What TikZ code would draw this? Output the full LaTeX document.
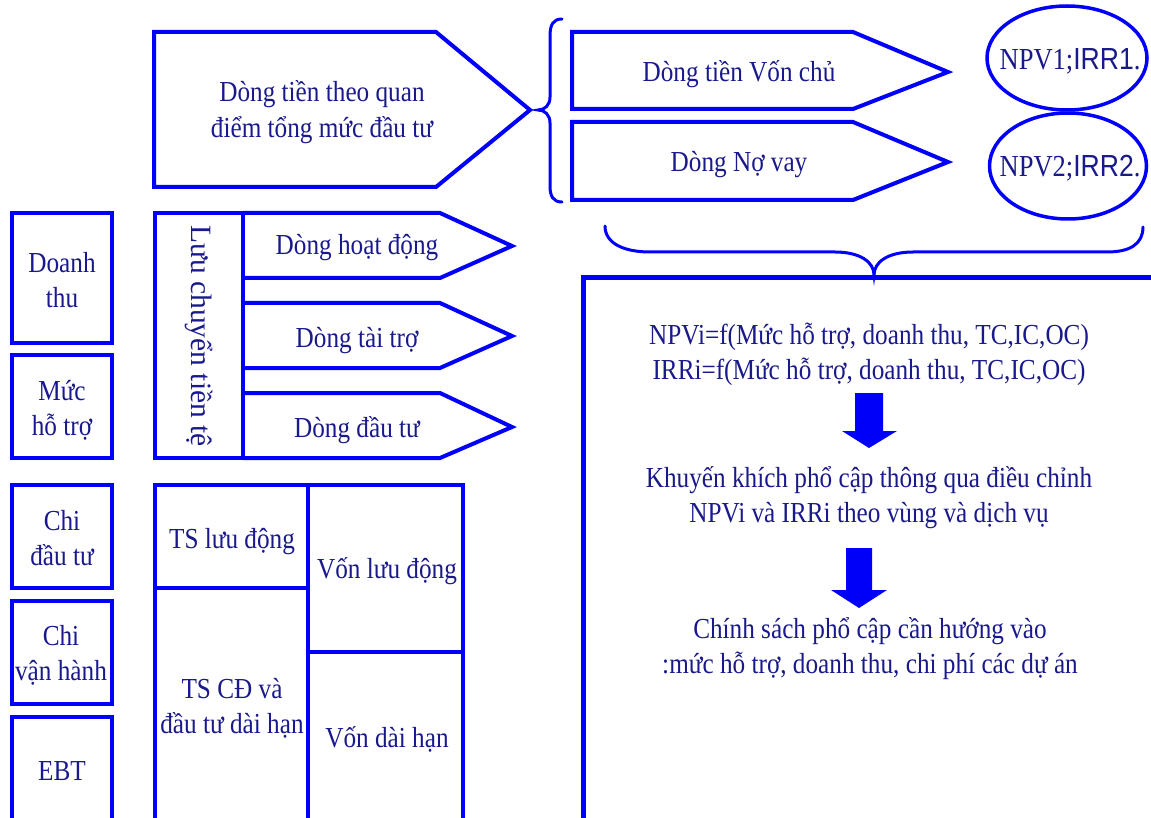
\documentclass[tikz,border=0pt]{standalone}
\usepackage{fontspec}
\setmainfont{Liberation Serif}[FakeStretch=0.87]
\newfontfamily\sansf{Liberation Sans}[FakeStretch=0.87]
\newfontfamily\plainserif{Liberation Serif}
\usetikzlibrary{shapes.geometric}
\definecolor{lineblue}{RGB}{0,0,250}
\definecolor{txtnavy}{RGB}{25,25,140}
\begin{document}
\begin{tikzpicture}[x=1pt,y=-1pt,
  shp/.style={draw=lineblue, line width=4pt, line join=miter},
  tbl/.style={draw=lineblue, line width=4.5pt},
  txt/.style={text=txtnavy, font=\fontsize{29}{35.5}\selectfont, align=center, inner sep=0pt, anchor=base},
  brc/.style={draw=lineblue, line width=3pt, line cap=round},
  ell/.style={ellipse, draw=lineblue, line width=3.5pt, inner sep=0pt},
  fatarrow/.style={fill=lineblue, draw=none}]
\useasboundingbox (0,0) rectangle (1151,818);
\clip (0,0) rectangle (1151,818);

% --- top: big pentagon, brace, two pentagons, ellipses
\draw[shp] (154,32) -- (436,32) -- (530,110) -- (436,187) -- (154,187) -- cycle;
\node[txt] (big) at (322,137.5) {Dòng tiền theo quan\\điểm tổng mức đầu tư};

\draw[brc] (562,19) .. controls (553,19) and (550,25) .. (550,36) -- (550,97)
  .. controls (550,105) and (545,110) .. (538,110)
  .. controls (545,110) and (550,115) .. (550,123) -- (550,186)
  .. controls (550,196) and (553,202) .. (562,202);

\draw[shp] (572,32) -- (853,32) -- (948,72) -- (853,109) -- (572,109) -- cycle;
\node[txt] (von) at (739,82) {Dòng tiền Vốn chủ};
\draw[shp] (572,122) -- (853,122) -- (948,162) -- (853,200) -- (572,200) -- cycle;
\node[txt] (novay) at (739,172) {Dòng Nợ vay};

\node[ell, minimum width=160pt, minimum height=104pt] (e1) at (1067,58) {};
\node[txt, font=\fontsize{30.5}{36}\selectfont] (npv1) at (1070,70) {NPV1;{\sansf IRR1}.};
\node[ell, minimum width=157pt, minimum height=106pt] (e2) at (1068,166) {};
\node[txt, font=\fontsize{30.5}{36}\selectfont] (npv2) at (1070,177) {NPV2;{\sansf IRR2}.};

% --- bottom brace
\draw[brc] (605,226) .. controls (605,244) and (625,252) .. (650,252) -- (835,252)
  .. controls (860,252) and (874,262) .. (874,275)
  .. controls (874,262) and (888,252) .. (913,252) -- (1107,252)
  .. controls (1130,252) and (1143,244) .. (1143,227);

% --- big right box
\draw[draw=lineblue, line width=5pt] (583,278) rectangle (1170,820);
\node[txt] (f1) at (869,379.5) {NPVi=f(Mức hỗ trợ, doanh thu, TC,IC,OC)\\IRRi=f(Mức hỗ trợ, doanh thu, TC,IC,OC)};
\fill[fatarrow] (855,393) -- (883,393) -- (883,431) -- (897,431) -- (869,448) -- (842,431) -- (855,431) -- cycle;
\node[txt] (f2) at (869,522.5) {Khuyến khích phổ cập thông qua điều chỉnh\\NPVi và IRRi theo vùng và dịch vụ};
\fill[fatarrow] (846,548) -- (872,548) -- (872,590) -- (887,590) -- (859,608) -- (831,590) -- (846,590) -- cycle;
\node[txt] (f3) at (870,673.5) {Chính sách phổ cập cần hướng vào\\:mức hỗ trợ, doanh thu, chi phí các dự án};

% --- left column boxes
\draw[shp] (12,213) rectangle (112,343);
\node[txt] (dt) at (62,307.5) {Doanh\\thu};
\draw[shp] (12,355) rectangle (112,458);
\node[txt] (ht) at (62,435.5) {Mức\\hỗ trợ};
\draw[shp] (12,485) rectangle (112,588);
\node[txt] (cdt) at (62,565.5) {Chi\\đầu tư};
\draw[shp] (12,601) rectangle (112,704);
\node[txt] (cvh) at (61,680.5) {Chi\\vận hành};
\draw[shp] (12,717) rectangle (112,840);
\node[txt] (ebt) at (62,780) {EBT};

% --- cash flow stack
\draw[shp] (155,213) rectangle (243,458);
\node[text=txtnavy, font=\plainserif\fontsize{29.5}{35}\selectfont, inner sep=0pt, rotate=-90] (lc) at (199,336) {Lưu chuyển tiền tệ};
\draw[shp] (243,213) -- (440,213) -- (512,246) -- (440,278) -- (243,278);
\node[txt] (hd) at (357,255) {Dòng hoạt động};
\draw[shp] (243,303) -- (440,303) -- (512,336) -- (440,368) -- (243,368);
\node[txt] (tt) at (357,347) {Dòng tài trợ};
\draw[shp] (243,393) -- (440,393) -- (512,427) -- (440,458) -- (243,458);
\node[txt] (dtu) at (357,437) {Dòng đầu tư};

% --- balance table
\draw[tbl] (155,485) rectangle (463,840);
\draw[tbl] (308,485) -- (308,840);
\draw[tbl] (155,588) -- (308,588);
\draw[tbl] (308,652) -- (463,652);
\node[txt] (tsl) at (232,548) {TS lưu động};
\node[txt] (tscd) at (232,733.5) {TS CĐ và\\đầu tư dài hạn};
\node[txt] (vld) at (387,578) {Vốn lưu động};
\node[txt] (vdh) at (387,747) {Vốn dài hạn};
\end{tikzpicture}
\end{document}
